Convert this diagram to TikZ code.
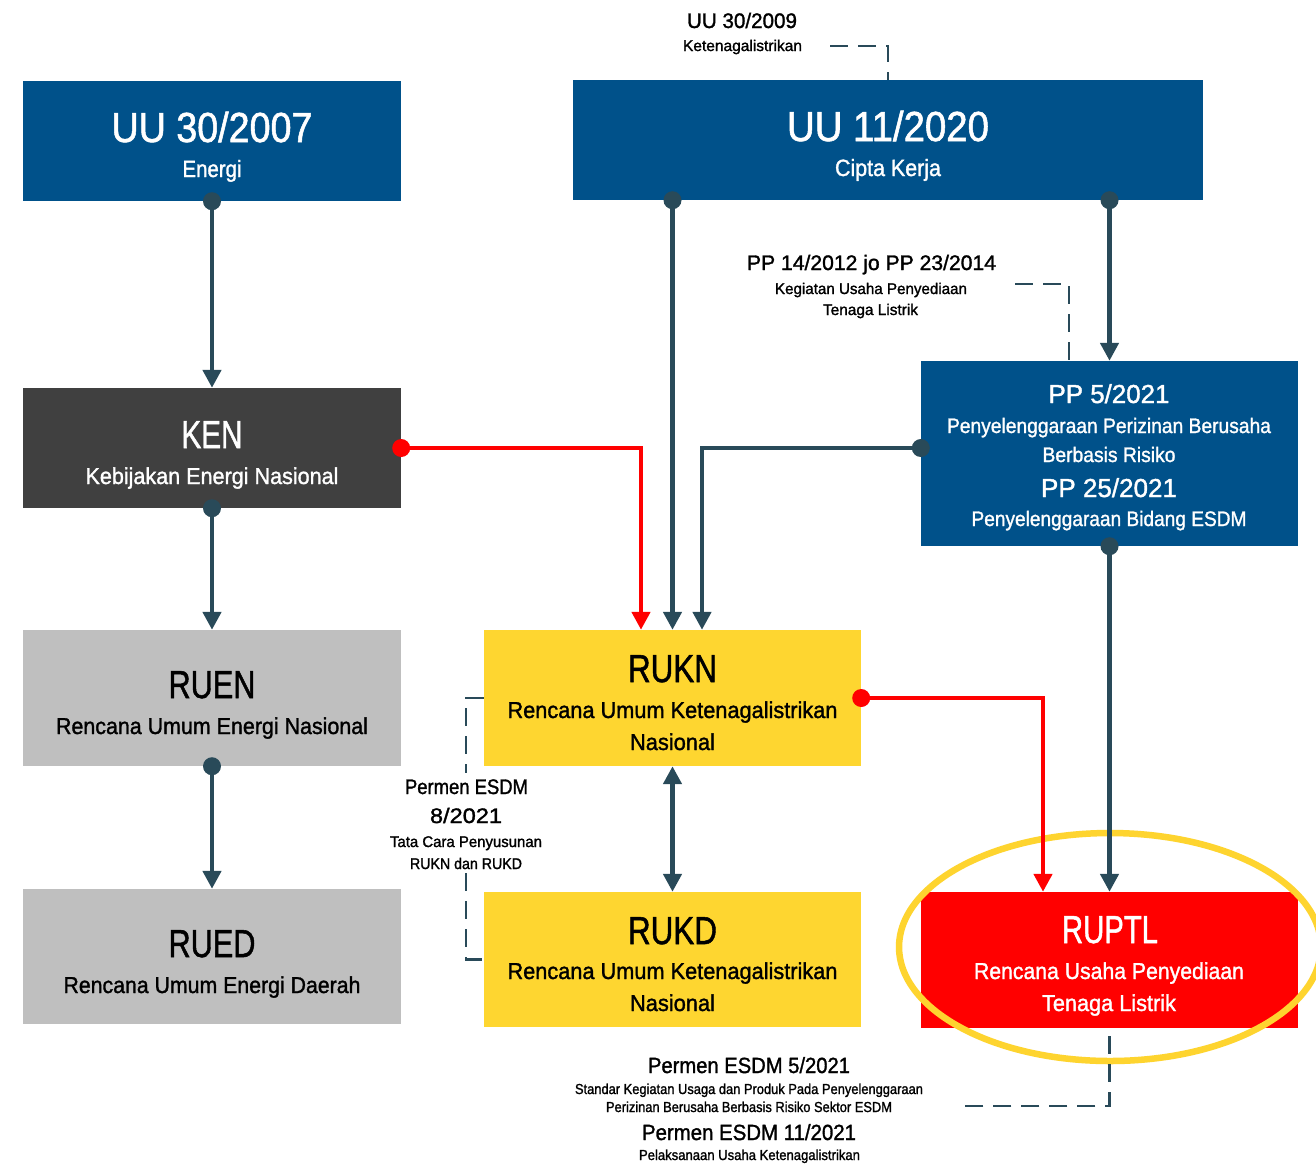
\documentclass[tikz,border=0pt]{standalone}
\usepackage{fontspec}
\usepackage{graphicx}
\setmainfont{Liberation Sans}
\newfontfamily\cf[FakeBold=1.4]{Liberation Sans}
\usetikzlibrary{arrows.meta}
\definecolor{cblue}{HTML}{00518A}
\definecolor{cdark}{HTML}{404040}
\definecolor{cgray}{HTML}{BFBFBF}
\definecolor{cyel}{HTML}{FED630}
\definecolor{cred}{HTML}{FF0000}
\definecolor{cline}{HTML}{294A59}
\definecolor{cring}{HTML}{FED42F}
\newcommand\tw[3]{\cf\fontsize{#1}{#1}\selectfont\resizebox{#2pt}{\height}{#3}}
\tikzset{
  box/.style={inner sep=0pt, minimum width=378pt, minimum height=120pt},
  txt/.style={inner sep=0pt, anchor=base},
  conn/.style={line width=4.5pt, draw=cline, -{Triangle[width=18pt,length=18pt]}},
  rconn/.style={conn, draw=cred},
  both/.style={line width=4.5pt, draw=cline, {Triangle[width=18pt,length=18pt]}-{Triangle[width=18pt,length=18pt]}},
  dsh/.style={draw=cline, line width=2.5pt, dash pattern=on 18pt off 10pt},
  dotd/.style={fill=cline},
  dotr/.style={fill=cred}
}
\begin{document}
\begin{tikzpicture}[x=1pt,y=-1pt]
\fill[white] (0,0) rectangle (1316,1163);
\useasboundingbox (0,0) rectangle (1316,1163);

% boxes
\node[box, fill=cblue] (uu07) at (212,141) {};
\node[box, fill=cblue, minimum width=630pt] (uu11) at (888,140) {};
\node[box, fill=cdark] (ken) at (212,448) {};
\node[box, fill=cgray, minimum height=136pt] (ruen) at (212,698) {};
\node[box, fill=cgray, minimum height=135pt] (rued) at (212,956.5) {};
\node[box, fill=cblue, minimum width=377pt, minimum height=185pt] (pp) at (1109.5,453.5) {};
\node[box, fill=cyel, minimum width=377pt, minimum height=136pt] (rukn) at (672.5,698) {};
\node[box, fill=cyel, minimum width=377pt, minimum height=135pt] (rukd) at (672.5,959.5) {};
\node[box, fill=cred, minimum width=377pt, minimum height=136pt] (ruptl) at (1109.5,960) {};

% ring
\draw[cring, line width=6.5pt] (1110,947) ellipse [x radius=211pt, y radius=114pt];

% box texts
\node[txt, text=white] (a1) at (212,142) {\tw{42}{201}{UU 30/2007}};
\node[txt, text=white] (a2) at (212,177) {\tw{23.5}{59}{Energi}};
\node[txt, text=white] (b1) at (888,141) {\tw{42}{202}{UU 11/2020}};
\node[txt, text=white] (b2) at (888,176) {\tw{23.5}{106}{Cipta Kerja}};
\node[txt, text=white] (c1) at (212,448) {\tw{39}{61}{KEN}};
\node[txt, text=white] (c2) at (212,484) {\tw{23}{253}{Kebijakan Energi Nasional}};
\node[txt, text=black] (d1) at (212,698) {\tw{39}{87}{RUEN}};
\node[txt, text=black] (d2) at (212,734) {\tw{23}{312}{Rencana Umum Energi Nasional}};
\node[txt, text=black] (e1) at (212,957) {\tw{39}{87}{RUED}};
\node[txt, text=black] (e2) at (212,993) {\tw{23}{297}{Rencana Umum Energi Daerah}};
\node[txt, text=black] (f1) at (672.5,682) {\tw{39}{89}{RUKN}};
\node[txt, text=black] (f2) at (672.5,718) {\tw{23}{330}{Rencana Umum Ketenagalistrikan}};
\node[txt, text=black] (f3) at (672.5,750) {\tw{23}{85}{Nasional}};
\node[txt, text=black] (g1) at (672.5,944) {\tw{39}{89}{RUKD}};
\node[txt, text=black] (g2) at (672.5,979) {\tw{23}{330}{Rencana Umum Ketenagalistrikan}};
\node[txt, text=black] (g3) at (672.5,1011) {\tw{23}{85}{Nasional}};
\node[txt, text=white] (h1) at (1110,943) {\tw{39}{96}{RUPTL}};
\node[txt, text=white] (h2) at (1109,979) {\tw{23}{270}{Rencana Usaha Penyediaan}};
\node[txt, text=white] (h3) at (1109,1011) {\tw{23}{134}{Tenaga Listrik}};
\node[txt, text=white] (i1) at (1109,403) {\tw{26}{121}{PP 5/2021}};
\node[txt, text=white] (i2) at (1109,433) {\tw{21}{324}{Penyelenggaraan Perizinan Berusaha}};
\node[txt, text=white] (i3) at (1109,462) {\tw{21}{133}{Berbasis Risiko}};
\node[txt, text=white] (i4) at (1109,497) {\tw{26}{136}{PP 25/2021}};
\node[txt, text=white] (i5) at (1109,526) {\tw{21}{275}{Penyelenggaraan Bidang ESDM}};

% free labels
\node[txt] (j1) at (742,28) {\tw{21}{110}{UU 30/2009}};
\node[txt] (j2) at (742.5,51) {\tw{15.5}{119}{Ketenagalistrikan}};
\node[txt] (k1) at (871.5,270) {\tw{21}{249}{PP 14/2012 jo PP 23/2014}};
\node[txt] (k2) at (871,294) {\tw{15.5}{192}{Kegiatan Usaha Penyediaan}};
\node[txt] (k3) at (870.5,315) {\tw{15.5}{95}{Tenaga Listrik}};
\node[txt] (l1) at (466.5,794) {\tw{21}{123}{Permen ESDM}};
\node[txt] (l2) at (466,823) {\tw{21}{72}{8/2021}};
\node[txt] (l3) at (466,847) {\tw{15.5}{152}{Tata Cara Penyusunan}};
\node[txt] (l4) at (466,869) {\tw{15.5}{112}{RUKN dan RUKD}};
\node[txt] (m1) at (749,1073) {\tw{22}{202}{Permen ESDM 5/2021}};
\node[txt] (m2) at (749,1094) {\tw{14.5}{348}{Standar Kegiatan Usaga dan Produk Pada Penyelenggaraan}};
\node[txt] (m3) at (749,1112) {\tw{14.5}{286}{Perizinan Berusaha Berbasis Risiko Sektor ESDM}};
\node[txt] (m4) at (749,1140) {\tw{22}{214}{Permen ESDM 11/2021}};
\node[txt] (m5) at (749.5,1160) {\tw{14.5}{221}{Pelaksanaan Usaha Ketenagalistrikan}};

% dashed references
\coordinate (q1) at (830,46);
\draw[dsh] (q1) -| (uu11.north);
\coordinate (q2) at (1015,284);
\draw[dsh] (q2) -| ([xshift=-40.5pt]pp.north);
\coordinate (q3a) at (466,773);
\coordinate (q3b) at (466,873);
\draw[dsh] (rukn.west) -| (q3a);
\draw[dsh] (q3b) |- (rukd.west);
\coordinate (q4) at (963,1106);
\draw[dsh] ([yshift=-8pt]ruptl.south) |- (q4);

% connectors
\draw[conn] (uu07.south) -- (ken.north);
\draw[conn] (ken.south) -- (ruen.north);
\draw[conn] (ruen.south) -- (rued.north);
\draw[conn] (uu11.south -| rukn.north) -- (rukn.north);
\draw[conn] (uu11.south -| pp.north) -- (pp.north);
\draw[rconn] (ken.east) -| ([xshift=-31.5pt]rukn.north);
\draw[conn] (pp.west |- ken.east) -| ([xshift=29.5pt]rukn.north);
\draw[conn] (pp.south) -- (ruptl.north);
\draw[rconn] (rukn.east) -| ([xshift=-66.5pt]ruptl.north);
\draw[both] (rukn.south) -- (rukd.north);

% dots
\fill[dotd] (uu07.south) circle[radius=9pt];
\fill[dotd] (ken.south) circle[radius=9pt];
\fill[dotd] (ruen.south) circle[radius=9pt];
\fill[dotd] (uu11.south -| rukn.north) circle[radius=9pt];
\fill[dotd] (uu11.south -| pp.north) circle[radius=9pt];
\fill[dotr] (ken.east) circle[radius=9pt];
\fill[dotd] (pp.west |- ken.east) circle[radius=9pt];
\fill[dotd] (pp.south) circle[radius=9pt];
\fill[dotr] (rukn.east) circle[radius=9pt];
\end{tikzpicture}
\end{document}
